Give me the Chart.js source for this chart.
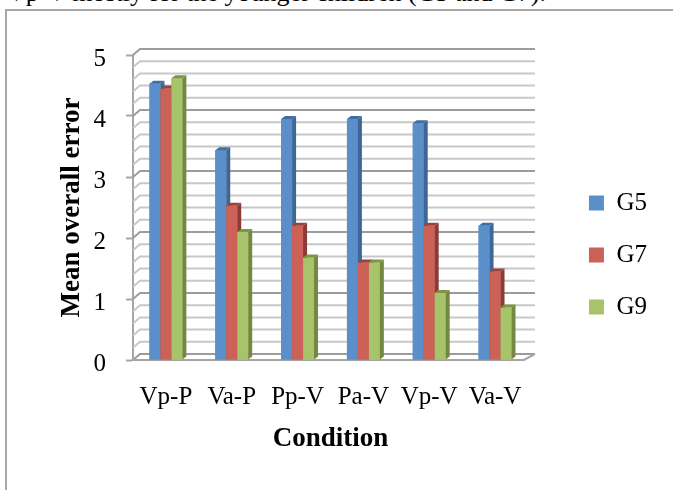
<!DOCTYPE html>
<html>
<head>
<meta charset="utf-8">
<script src="https://cdn.jsdelivr.net/npm/chart.js@4.4.1/dist/chart.umd.min.js"></script>
<style>
  html, body { margin: 0; padding: 0; background: #fff; width: 673px; height: 490px; overflow: hidden; position: relative; }
  #lead { position: absolute; left: 7px; top: -20px; font: 26px/26px 'Liberation Serif', serif; white-space: nowrap; color: #000; }
  #frame { position: absolute; left: 5px; top: 9px; width: 720px; height: 540px; border: 2px solid #a6a6a6; box-sizing: border-box; }
  #c { position: absolute; left: 0; top: 0; }
</style>
</head>
<body>
<div id="lead">Vp-V mostly for the younger children (G5 and G7).</div>
<div id="frame"></div>
<canvas id="c" width="673" height="490"></canvas>
<script>
// Conditions on the x axis
const categories = ['Vp-P', 'Va-P', 'Pp-V', 'Pa-V', 'Vp-V', 'Va-V'];
// Grade groups
const seriesNames = ['G5', 'G7', 'G9'];
// Mean overall error per condition
const g5Values = [4.53, 3.44, 3.95, 3.95, 3.88, 2.20];
const g7Values = [4.45, 2.53, 2.20, 1.60, 2.20, 1.45];
const g9Values = [4.62, 2.10, 1.68, 1.60, 1.10, 0.86];
// Value axis ticks
const yTicks = [0, 1, 2, 3, 4, 5];

const SERIF = "'Liberation Serif', 'Times New Roman', serif";

// Face shades for each series: front, side, top
const palette = [
  { front: '#5b8fca', side: '#3c6796', top: '#3f6ea3' },
  { front: '#cc6158', side: '#8e3a36', top: '#9a433d' },
  { front: '#a8c46b', side: '#73893f', top: '#7d9646' }
];
const barDepth = { x: 4, y: 3 };

// Back wall, side wall and floor of the 3-D plot box
const wall3d = {
  id: 'wall3d',
  beforeDatasetsDraw(chart) {
    const { ctx, chartArea: a, scales: { y } } = chart;
    const backL = a.left + 7, backR = a.right + 7, frontR = a.right - 4, dy = 6;
    ctx.save();
    ctx.lineWidth = 2;
    const minorSteps = 5;
    const top = yTicks[yTicks.length - 1];
    for (let k = 0; k <= top * minorSteps; k++) {
      const v = k / minorSteps;
      const py = y.getPixelForValue(v);
      ctx.strokeStyle = (k % minorSteps === 0) ? '#9c9c9c' : '#c8c8c8';
      ctx.beginPath();
      ctx.moveTo(a.left, py);
      ctx.lineTo(backL, py - dy);
      ctx.lineTo(backR, py - dy);
      ctx.stroke();
    }
    ctx.strokeStyle = '#a6a6a6';
    ctx.beginPath();
    ctx.moveTo(a.left, a.bottom);
    ctx.lineTo(frontR, a.bottom);
    ctx.lineTo(backR, a.bottom - dy);
    ctx.stroke();
    ctx.restore();
  }
};

// Extruded columns: front face, right side and top, drawn left to right
const bars3d = {
  id: 'bars3d',
  afterDatasetsDraw(chart) {
    const { ctx } = chart;
    const metas = chart.data.datasets.map((d, i) => chart.getDatasetMeta(i));
    ctx.save();
    for (let j = 0; j < categories.length; j++) {
      metas.forEach((meta, i) => {
        const el = meta.data[j];
        if (!el) return;
        const { x, y, base, width } = el.getProps(['x', 'y', 'base', 'width'], true);
        const l = x - width / 2, r = x + width / 2;
        const pal = palette[i];
        ctx.fillStyle = pal.front;
        ctx.fillRect(l, y, width, base - y);
        ctx.fillStyle = pal.side;
        ctx.beginPath();
        ctx.moveTo(r, y);
        ctx.lineTo(r + barDepth.x, y - barDepth.y);
        ctx.lineTo(r + barDepth.x, base - barDepth.y);
        ctx.lineTo(r, base);
        ctx.closePath();
        ctx.fill();
        ctx.fillStyle = pal.top;
        ctx.beginPath();
        ctx.moveTo(l, y);
        ctx.lineTo(l + barDepth.x, y - barDepth.y);
        ctx.lineTo(r + barDepth.x, y - barDepth.y);
        ctx.lineTo(r, y);
        ctx.closePath();
        ctx.fill();
      });
    }
    ctx.restore();
  }
};

const seriesValues = [g5Values, g7Values, g9Values];

new Chart(document.getElementById('c'), {
  type: 'bar',
  data: {
    labels: categories,
    datasets: seriesNames.map((name, i) => ({
      label: name,
      data: seriesValues[i],
      backgroundColor: palette[i].front,
      borderWidth: 0,
      barPercentage: 1,
      categoryPercentage: 0.5
    }))
  },
  options: {
    responsive: false,
    animation: false,
    devicePixelRatio: 1,
    layout: { padding: { left: 50, top: 55, right: 16, bottom: 35 } },
    plugins: {
      tooltip: { enabled: false },
      legend: {
        position: 'right',
        align: 'center',
        labels: {
          boxWidth: 15,
          boxHeight: 15,
          padding: 27,
          color: '#000',
          font: { family: SERIF, size: 25 }
        }
      }
    },
    scales: {
      x: {
        grid: { display: false, drawTicks: false },
        border: { display: false },
        ticks: { color: '#000', font: { family: SERIF, size: 25 }, padding: 22, maxRotation: 0, autoSkip: false },
        title: { display: true, text: 'Condition', color: '#000', font: { family: SERIF, size: 27, weight: 'bold' }, padding: { top: 0, bottom: 0 } },
        afterFit(s) { s.height = 95; }
      },
      y: {
        min: 0,
        max: 5,
        grid: { display: true, drawOnChartArea: false, drawTicks: true, tickLength: 7, tickColor: '#a6a6a6', tickWidth: 2 },
        border: { display: true, color: '#a6a6a6', width: 2 },
        ticks: { color: '#000', font: { family: SERIF, size: 25 }, padding: 20, labelOffset: 4 },
        afterBuildTicks(s) { s.ticks = yTicks.map(v => ({ value: v })); },
        title: { display: true, text: 'Mean overall error', color: '#000', font: { family: SERIF, size: 27, weight: 'bold' }, padding: { top: 6, bottom: 0 } },
        afterFit(s) { s.width = 83; }
      },
      gap: {
        position: 'right',
        display: true,
        grid: { display: false, drawTicks: false },
        border: { display: false },
        ticks: { display: false },
        afterFit(s) { s.width = 34; }
      }
    }
  },
  plugins: [wall3d, bars3d]
});
</script>
</body>
</html>
